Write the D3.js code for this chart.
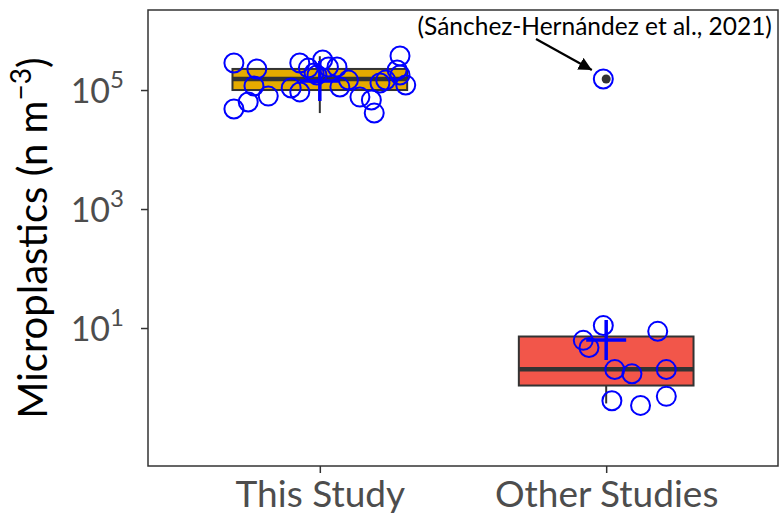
<!DOCTYPE html>
<html>
<head>
<meta charset="utf-8">
<script src="https://cdn.jsdelivr.net/npm/d3@7"></script>
<style>
  body { margin: 0; background: #fff; }
  svg text { font-family: Lato, "Open Sans", sans-serif; }
</style>
</head>
<body>
<svg id="chart" width="780" height="514"></svg>
<script>
// groups on the x axis
var groups = ["This Study", "Other Studies"];
var fills = ["#E5AB00", "#F2564A"];

// box statistics (n m^-3)
var boxLow = [4.1e4, 0.54];
var boxQ1 = [1.0e5, 1.08];
var boxMed = [1.53e5, 2.03];
var boxQ3 = [2.26e5, 7.2];
var boxHigh = [3.7e5, 11];
var outlierVals = [null, 1.53e5];

// individual samples, with their horizontal jitter (in group units)
var thisStudy = [2.85e5, 2.26e5, 1.17e5, 6.3e4, 4.8e4, 7.9e4, 1.08e5, 2.85e5, 2.34e5, 9.3e4,
                 1.93e5, 3.2e5, 2.44e5, 2.44e5, 1.12e5, 1.47e5, 7.6e4, 6.8e4, 4.1e4, 1.31e5,
                 1.47e5, 3.73e5, 2.17e5, 1.79e5, 1.21e5, 1.79e5];
var thisJitter = [-0.30, -0.22, -0.23, -0.25, -0.30, -0.18, -0.10, -0.07, -0.04, -0.07,
                  -0.02, 0.01, 0.03, 0.06, 0.07, 0.10, 0.14, 0.18, 0.19, 0.21,
                  0.23, 0.28, 0.27, 0.28, 0.30, -0.01];
var otherStudies = [11, 6.2, 4.7, 8.8, 2.0, 1.7, 2.0, 0.6, 0.5, 0.71, 1.53e5];
var otherJitter = [-0.01, -0.08, -0.06, 0.18, 0.03, 0.09, 0.21, 0.02, 0.12, 0.21, -0.01];

var yTicks = [10, 1000, 100000];

window.onload = function() {
    drawChart();
};

function drawChart() {
    // mean markers (log mean)
    var means = [d3.mean(thisStudy, function(d) { return Math.log10(d); }),
                 d3.mean(otherStudies, function(d) { return Math.log10(d); })];

    var svg = d3.select("#chart");
    var pLeft = 148, pRight = 778, pTop = 10, pBottom = 466;

    var x = d3.scalePoint().domain(groups).range([pLeft, pRight]).padding(0.6);
    var step = x.step();
    var y = d3.scaleLog().domain([Math.pow(10, -1.319), Math.pow(10, 6.345)]).range([pBottom, pTop]);

    var boxW = step * 0.61;

    // axes
    var yAxis = svg.append("g")
        .attr("transform", "translate(" + pLeft + ",0)")
        .call(d3.axisLeft(y).tickValues(yTicks).tickSize(7).tickFormat(""));
    yAxis.select(".domain").remove();
    yAxis.selectAll(".tick line").attr("stroke", "#333").attr("stroke-width", 1.5);

    yAxis.selectAll(".tick").append("text")
        .attr("x", -24)
        .attr("y", 12)
        .attr("fill", "#4D4D4D")
        .style("font-size", "34px")
        .attr("text-anchor", "end")
        .each(function(d) {
            var t = d3.select(this);
            t.append("tspan").text("10");
            t.append("tspan").attr("dy", -15).style("font-size", "24px").text(Math.round(Math.log10(d)));
        });

    var xAxis = svg.append("g")
        .attr("transform", "translate(0," + pBottom + ")")
        .call(d3.axisBottom(x).tickSize(7).tickFormat(""));
    xAxis.select(".domain").remove();
    xAxis.selectAll(".tick line").attr("stroke", "#333").attr("stroke-width", 1.5);
    xAxis.selectAll(".tick").append("text")
        .attr("y", 41)
        .attr("fill", "#4D4D4D")
        .attr("text-anchor", "middle")
        .style("font-size", "37px")
        .text(function(d) { return d; });

    // y title
    var title = svg.append("text")
        .attr("transform", "translate(47," + ((pTop + pBottom) / 2) + ") rotate(-90)")
        .attr("text-anchor", "middle")
        .attr("fill", "#000")
        .style("font-size", "40px");
    title.append("tspan").text("Microplastics (n m");
    title.append("tspan").attr("dy", -16).style("font-size", "28px").text("\u22123");
    title.append("tspan").attr("dy", 16).text(")");

    // boxes
    var boxes = svg.append("g");
    groups.forEach(function(g, i) {
        var cx = x(g);
        boxes.append("line")
            .attr("x1", cx).attr("x2", cx)
            .attr("y1", y(boxHigh[i])).attr("y2", y(boxLow[i]))
            .attr("stroke", "#333").attr("stroke-width", 2);
        boxes.append("rect")
            .attr("x", cx - boxW / 2).attr("width", boxW)
            .attr("y", y(boxQ3[i])).attr("height", y(boxQ1[i]) - y(boxQ3[i]))
            .attr("fill", fills[i]).attr("stroke", "#333").attr("stroke-width", 2);
        boxes.append("line")
            .attr("x1", cx - boxW / 2).attr("x2", cx + boxW / 2)
            .attr("y1", y(boxMed[i])).attr("y2", y(boxMed[i]))
            .attr("stroke", "#333").attr("stroke-width", 4.5);
        if (outlierVals[i] != null) {
            boxes.append("circle")
                .attr("cx", cx).attr("cy", y(outlierVals[i]))
                .attr("r", 4.5).attr("fill", "#333");
        }
    });

    // jittered samples
    var pts = [];
    thisStudy.forEach(function(v, i) { pts.push({g: groups[0], v: v, j: thisJitter[i]}); });
    otherStudies.forEach(function(v, i) { pts.push({g: groups[1], v: v, j: otherJitter[i]}); });

    svg.append("g").selectAll("circle")
        .data(pts)
        .enter().append("circle")
        .attr("cx", function(d) { return x(d.g) + d.j * step; })
        .attr("cy", function(d) { return y(d.v); })
        .attr("r", 9.5)
        .attr("fill", "none")
        .attr("stroke", "#0000FF")
        .attr("stroke-width", 2);

    // mean crosses
    var crossHalf = 20;
    groups.forEach(function(g, i) {
        var cx = x(g), cy = y(Math.pow(10, means[i]));
        svg.append("path")
            .attr("d", "M" + (cx - crossHalf) + "," + cy + "H" + (cx + crossHalf) +
                       "M" + cx + "," + (cy - crossHalf) + "V" + (cy + crossHalf))
            .attr("stroke", "#0000FF").attr("stroke-width", 3.5).attr("fill", "none");
    });

    // annotation
    var noteX = x(groups[1]) - 0.04 * step;
    svg.append("text")
        .attr("x", noteX).attr("y", y(Math.pow(10, 6.06)) + 8)
        .attr("text-anchor", "middle")
        .attr("fill", "#000")
        .style("font-size", "24.5px")
        .text("(Sánchez-Hernández et al., 2021)");

    svg.append("defs").append("marker")
        .attr("id", "arrow")
        .attr("viewBox", "0 0 10 10")
        .attr("refX", 10).attr("refY", 5)
        .attr("markerWidth", 6).attr("markerHeight", 6)
        .attr("markerUnits", "strokeWidth")
        .attr("orient", "auto")
        .append("path").attr("d", "M0,0L10,5L0,10Z").attr("fill", "#000");

    svg.append("line")
        .attr("x1", x(groups[1]) - 0.245 * step).attr("y1", y(Math.pow(10, 5.857)))
        .attr("x2", x(groups[1]) - 0.05 * step).attr("y2", y(Math.pow(10, 5.336)))
        .attr("stroke", "#000").attr("stroke-width", 2.2)
        .attr("marker-end", "url(#arrow)");

    // panel border
    svg.append("rect")
        .attr("x", pLeft).attr("y", pTop)
        .attr("width", pRight - pLeft).attr("height", pBottom - pTop)
        .attr("fill", "none").attr("stroke", "#333").attr("stroke-width", 1.5);
}
</script>
</body>
</html>
